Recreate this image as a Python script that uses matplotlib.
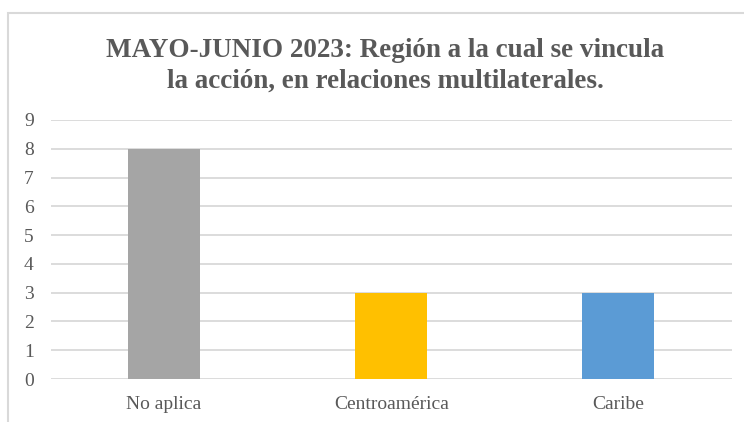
import matplotlib
matplotlib.use("Agg")
import matplotlib.pyplot as plt
from matplotlib.patches import Rectangle

categories = ["No aplica", "Centroamérica", "Caribe"]
values = [8, 3, 3]
colors = ["#A5A5A5", "#FFC000", "#5B9BD5"]
yticks = list(range(0, 10))
title = "MAYO-JUNIO 2023: Región a la cual se vincula\nla acción, en relaciones multilaterales."

plt.rcParams["font.family"] = "serif"
plt.rcParams["font.serif"] = ["Liberation Serif", "DejaVu Serif"]

W, H = 744, 422
fig = plt.figure(figsize=(W / 100, H / 100), dpi=100)

# chart border (top and left visible)
fig.patches.append(Rectangle((8 / W, -0.05), 1.2, (H - 13) / H + 0.05,
                             transform=fig.transFigure, fill=False,
                             edgecolor="#D9D9D9", linewidth=1.5))

left, right = 50.5 / W, 732 / W
bottom, top = 1 - 379 / H, 1 - 120 / H
ax = fig.add_axes([left, bottom, right - left, top - bottom])

x = range(len(categories))
ax.bar(x, values, width=0.317, color=colors, zorder=3)
ax.set_xlim(-0.5, len(categories) - 0.5)
ax.set_ylim(0, 9)
ax.set_yticks(yticks)
ax.set_xticks(list(x))
ax.set_xticklabels(categories)
ax.grid(axis="y", color="#D9D9D9", linewidth=1.3, zorder=0)
for s in ax.spines.values():
    s.set_visible(False)
ax.tick_params(axis="both", length=0, labelsize=14, labelcolor="#595959")
ax.tick_params(axis="x", pad=12)
ax.tick_params(axis="y", pad=12)

fig.text(385 / W, 1 - 65.5 / H, title, ha="center", va="center",
         fontsize=19.5, fontweight="bold", color="#595959",
         linespacing=1.3)

fig.savefig("out.png", dpi=100)
